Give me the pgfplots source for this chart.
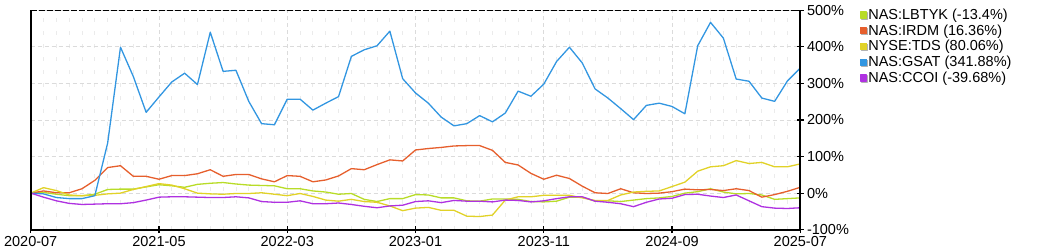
\documentclass[border=0pt]{standalone}
\usepackage{fontspec}
\setmainfont{Liberation Sans}
\usepackage{pgfplots}
\usepackage{pgfplotstable}
\pgfplotsset{compat=1.18}
\definecolor{clime}{RGB}{184,220,40}
\definecolor{corange}{RGB}{230,95,45}
\definecolor{cyellow}{RGB}{225,210,40}
\definecolor{cblue}{RGB}{50,150,225}
\definecolor{cpurple}{RGB}{175,50,225}
\pgfplotstableread{
m gsat irdm tds lbtyk ccoi
0 0 0 0 0 0
1 -2 6 15 2 -11
2 -12 1 7 -3 -21
3 -15 1 -5 -7 -28
4 -15 12 -7 -7 -31
5 -7 35 -6 -3 -30
6 137 70 -2 10 -29
7 399 75 0 11 -29
8 319 46 10 11 -26
9 221 46 18 17 -19
10 263 38 26 23 -11
11 304 48 22 20 -10
12 328 48 12 16 -10
13 297 53 0 24 -11
14 440 64 -2 27 -12
15 333 46 -3 29 -12
16 336 51 -1 25 -10
17 251 51 -1 22 -13
18 190 39 1 21 -23
19 187 31 -3 20 -25
20 257 48 -7 12 -25
21 257 46 -1 12 -21
22 227 31 -9 6 -29
23 246 36 -19 3 -29
24 264 47 -22 -3 -27
25 374 67 -17 -1 -31
26 392 64 -23 -17 -36
27 403 78 -25 -23 -40
28 443 91 -35 -15 -35
29 313 88 -48 -15 -33
30 274 118 -41 -4 -23
31 246 122 -39 -5 -21
32 208 125 -47 -13 -26
33 184 129 -47 -13 -20
34 190 130 -63 -21 -22
35 212 130 -64 -22 -22
36 195 117 -60 -16 -24
37 219 84 -19 -16 -19
38 279 77 -10 -17 -20
39 265 54 -10 -23 -24
40 298 38 -6 -24 -21
41 360 49 -6 -22 -15
42 399 40 -6 -11 -10
43 356 19 -13 -11 -10
44 285 1 -20 -22 -22
45 260 -1 -20 -21 -25
46 231 12 -5 -23 -29
47 201 1 3 -19 -37
48 240 -1 5 -15 -25
49 246 0 6 -13 -16
50 237 4 18 -9 -14
51 217 11 30 0 -4
52 403 9 60 4 -3
53 467 10 72 12 -8
54 424 7 75 3 -12
55 312 12 89 -2 -5
56 306 7 81 -1 -21
57 260 -11 84 -5 -37
58 251 -4 72 -17 -41
59 307 5 72 -15 -42
60 342 16 80 -13 -40
}\data
\begin{document}
\begin{tikzpicture}[x=1bp,y=1bp]
\useasboundingbox (0,0) rectangle (1050,250);
\begin{axis}[
  at={(30.7bp,20.3bp)}, anchor=south west,
  scale only axis, width=769.6bp, height=219.4bp,
  xmin=0, xmax=60, ymin=-100, ymax=500,
  clip mode=individual,
  xtick={0,10,...,60},
  xticklabels={2020-07,2021-05,2022-03,2023-01,2023-11,2024-09,2025-07},
  minor x tick num=9,
  ytick={-100,0,...,500},
  yticklabels={-100\%,0\%,100\%,200\%,300\%,400\%,500\%},
  xtick pos=left, ytick pos=right, yticklabel pos=right,
  tick align=center, major tick length=7bp, minor tick length=0pt,
  every tick/.style={black, line width=1.2bp},
  tick label style={font=\fontsize{14.5bp}{16bp}\selectfont, text=black},
  x tick label style={inner sep=0pt, yshift=-3bp},
  y tick label style={inner sep=0pt, xshift=3bp},
  axis line style={draw=none},
  xmajorgrids, xminorgrids, ymajorgrids,
  major grid style={gray!28, line width=0.8bp, dash pattern=on 4bp off 3bp},
  minor grid style={gray!16, line width=0.8bp, dash pattern=on 4bp off 9bp},
  legend style={at={(1.0776,1.009)}, anchor=north west, draw=none, fill=none,
    inner sep=0pt, outer sep=0pt, row sep=1.2bp,
    font=\fontsize{14.5bp}{16bp}\selectfont,
    nodes={inner sep=0pt, text height=11bp, text depth=3.5bp},
    /tikz/every even column/.append style={column sep=2bp}},
  legend cell align=left,
  legend image code/.code={\fill[black!30] (1bp,-3.5bp) rectangle (7bp,2.5bp);
    \fill (0bp,-2.5bp) rectangle (6bp,3.5bp);},
  every axis plot/.append style={line width=1.3bp, no markers, line join=round},
]
\addplot[clime] table[x=m,y=lbtyk]{\data};
\addlegendentry{NAS:LBTYK (-13.4\%)}
\addplot[corange] table[x=m,y=irdm]{\data};
\addlegendentry{NAS:IRDM (16.36\%)}
\addplot[cyellow] table[x=m,y=tds]{\data};
\addlegendentry{NYSE:TDS (80.06\%)}
\addplot[cblue] table[x=m,y=gsat]{\data};
\addlegendentry{NAS:GSAT (341.88\%)}
\addplot[cpurple] table[x=m,y=ccoi]{\data};
\addlegendentry{NAS:CCOI (-39.68\%)}
\draw[black, line width=2bp] (rel axis cs:0,1) -- (rel axis cs:0,0) -- (rel axis cs:1,0) -- (rel axis cs:1,1);
\draw[black, line width=1.5bp, dash pattern=on 6bp off 2bp] (rel axis cs:0,1) -- (rel axis cs:1,1);
\end{axis}
\end{tikzpicture}
\end{document}
